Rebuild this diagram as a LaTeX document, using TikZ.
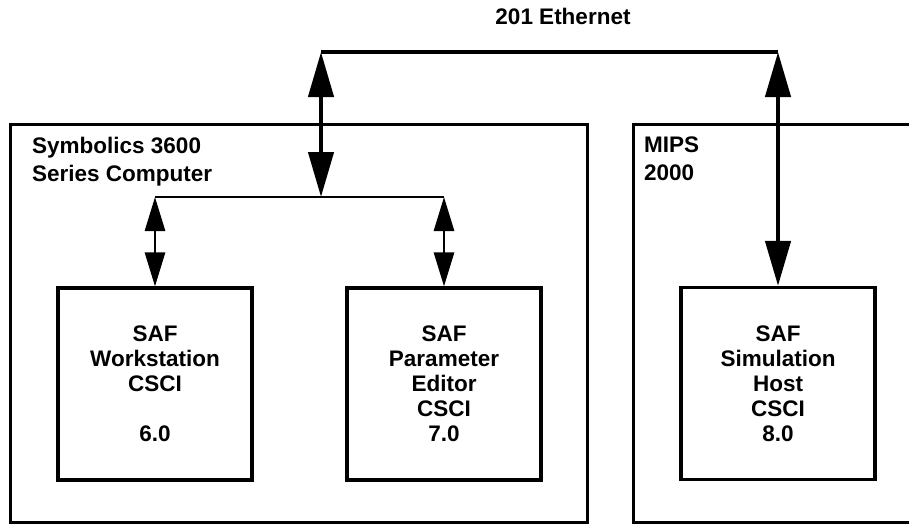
\documentclass[tikz,border=0pt]{standalone}
\usepackage{fontspec}
\setmainfont{Liberation Sans}
\usetikzlibrary{arrows.meta}

\begin{document}
\begin{tikzpicture}[x=1pt, y=-1pt, line join=miter,
  every node/.style={font=\fontsize{22.5}{25}\selectfont\bfseries, inner sep=0pt},
  host/.style={draw, line width=3pt},
  csci/.style={draw, line width=3.2pt, minimum width=194pt, minimum height=192pt, align=center},
  hostlabel/.style={anchor=north west, align=left, font=\fontsize{22.5}{28}\selectfont\bfseries},
  bigarrow/.style={{Triangle[length=45pt,width=25pt]}-{Triangle[length=45pt,width=25pt]}, line width=4.4pt},
  smallarrow/.style={{Triangle[length=34pt,width=20pt]}-{Triangle[length=34pt,width=20pt]}, line width=2.8pt}]
  \clip (0,0) rectangle (909,527);

  % Host computers
  \node[host, minimum width=577pt, minimum height=398pt] (symb) at (298.5,323) {};
  \node[host, minimum width=302pt, minimum height=398pt] (mips) at (784,323) {};
  \node[hostlabel] (symblabel) at (32,137) {Symbolics 3600\\Series Computer};
  \node[hostlabel] (mipslabel) at (644,137) {MIPS\\2000};

  % CSCIs
  \node[csci] (work) at (155,384) {SAF\\Workstation\\CSCI\\[25pt]6.0};
  \node[csci] (edit) at (444,384) {SAF\\Parameter\\Editor\\CSCI\\7.0};
  \node[csci] (sim) at (778,383.5) {SAF\\Simulation\\Host\\CSCI\\8.0};

  % Ethernet
  \coordinate (ethL) at (321,52);
  \coordinate (ethR) at (sim.north |- ethL);
  \node[anchor=base] (ethlabel) at (563,25) {201 Ethernet};
  \draw[line width=4.8pt] (ethL) -- (ethR);

  % Local bus in the Symbolics
  \coordinate (busM) at (321,197);
  \draw[line width=2.8pt] (work.north |- busM) -- (edit.north |- busM);

  % Connections
  \draw[bigarrow] (ethL) -- (busM);
  \draw[bigarrow] (ethR) -- (sim.north);
  \draw[smallarrow] (work.north |- busM) -- (work.north);
  \draw[smallarrow] (edit.north |- busM) -- (edit.north);
\end{tikzpicture}
\end{document}
